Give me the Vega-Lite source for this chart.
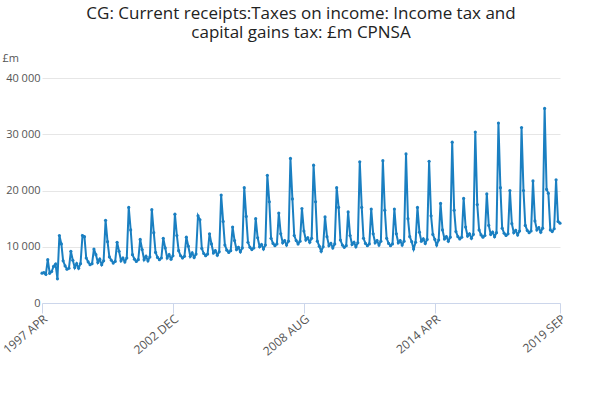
{"$schema":"https://vega.github.io/schema/vega-lite/v6.json",
"width":518,"height":225,
"padding":{"left":0,"top":5,"right":15,"bottom":5},
"title":{"text":["CG: Current receipts:Taxes on income: Income tax and","capital gains tax: £m CPNSA"],"fontSize":17,"font":"Open Sans","fontWeight":"normal","color":"#222","anchor":"middle","offset":10},
"config":{"view":{"stroke":null},"font":"Open Sans"},
"data":{"values":[
{"d":"1997-04","v":5300},{"d":"1997-05","v":5400},{"d":"1997-06","v":5100},{"d":"1997-07","v":7700},{"d":"1997-08","v":5300},{"d":"1997-09","v":5600},{"d":"1997-10","v":6500},{"d":"1997-11","v":6900},{"d":"1997-12","v":4300},
{"d":"1998-01","v":12000},{"d":"1998-02","v":10500},{"d":"1998-03","v":7500},{"d":"1998-04","v":6600},{"d":"1998-05","v":6000},{"d":"1998-06","v":6200},{"d":"1998-07","v":9200},{"d":"1998-08","v":7600},{"d":"1998-09","v":6300},{"d":"1998-10","v":7000},{"d":"1998-11","v":6200},{"d":"1998-12","v":7000},
{"d":"1999-01","v":12000},{"d":"1999-02","v":11800},{"d":"1999-03","v":8000},{"d":"1999-04","v":7300},{"d":"1999-05","v":6800},{"d":"1999-06","v":7000},{"d":"1999-07","v":9600},{"d":"1999-08","v":8600},{"d":"1999-09","v":7200},{"d":"1999-10","v":7800},{"d":"1999-11","v":6800},{"d":"1999-12","v":7500},
{"d":"2000-01","v":14700},{"d":"2000-02","v":10900},{"d":"2000-03","v":8200},{"d":"2000-04","v":7600},{"d":"2000-05","v":7100},{"d":"2000-06","v":7400},{"d":"2000-07","v":10800},{"d":"2000-08","v":9200},{"d":"2000-09","v":7500},{"d":"2000-10","v":8000},{"d":"2000-11","v":7300},{"d":"2000-12","v":8000},
{"d":"2001-01","v":17000},{"d":"2001-02","v":13000},{"d":"2001-03","v":8600},{"d":"2001-04","v":7800},{"d":"2001-05","v":7400},{"d":"2001-06","v":7700},{"d":"2001-07","v":11300},{"d":"2001-08","v":9500},{"d":"2001-09","v":7700},{"d":"2001-10","v":8300},{"d":"2001-11","v":7500},{"d":"2001-12","v":8200},
{"d":"2002-01","v":16600},{"d":"2002-02","v":12500},{"d":"2002-03","v":9000},{"d":"2002-04","v":8100},{"d":"2002-05","v":7700},{"d":"2002-06","v":8000},{"d":"2002-07","v":11500},{"d":"2002-08","v":9800},{"d":"2002-09","v":8000},{"d":"2002-10","v":8600},{"d":"2002-11","v":7800},{"d":"2002-12","v":8400},
{"d":"2003-01","v":15800},{"d":"2003-02","v":12000},{"d":"2003-03","v":9300},{"d":"2003-04","v":8400},{"d":"2003-05","v":8000},{"d":"2003-06","v":8300},{"d":"2003-07","v":11700},{"d":"2003-08","v":10100},{"d":"2003-09","v":8300},{"d":"2003-10","v":8900},{"d":"2003-11","v":8100},{"d":"2003-12","v":8700},
{"d":"2004-01","v":15500},{"d":"2004-02","v":14800},{"d":"2004-03","v":9700},{"d":"2004-04","v":8800},{"d":"2004-05","v":8400},{"d":"2004-06","v":8700},{"d":"2004-07","v":12300},{"d":"2004-08","v":10500},{"d":"2004-09","v":8900},{"d":"2004-10","v":9300},{"d":"2004-11","v":8500},{"d":"2004-12","v":9100},
{"d":"2005-01","v":19200},{"d":"2005-02","v":14500},{"d":"2005-03","v":10300},{"d":"2005-04","v":9400},{"d":"2005-05","v":9000},{"d":"2005-06","v":9300},{"d":"2005-07","v":13500},{"d":"2005-08","v":11100},{"d":"2005-09","v":9500},{"d":"2005-10","v":9900},{"d":"2005-11","v":9100},{"d":"2005-12","v":9800},
{"d":"2006-01","v":20500},{"d":"2006-02","v":15400},{"d":"2006-03","v":10800},{"d":"2006-04","v":9900},{"d":"2006-05","v":9500},{"d":"2006-06","v":9800},{"d":"2006-07","v":15000},{"d":"2006-08","v":11600},{"d":"2006-09","v":10000},{"d":"2006-10","v":10400},{"d":"2006-11","v":9600},{"d":"2006-12","v":10300},
{"d":"2007-01","v":22700},{"d":"2007-02","v":18000},{"d":"2007-03","v":11500},{"d":"2007-04","v":10600},{"d":"2007-05","v":10200},{"d":"2007-06","v":10500},{"d":"2007-07","v":16000},{"d":"2007-08","v":12300},{"d":"2007-09","v":10700},{"d":"2007-10","v":11100},{"d":"2007-11","v":10300},{"d":"2007-12","v":11000},
{"d":"2008-01","v":25700},{"d":"2008-02","v":18500},{"d":"2008-03","v":12000},{"d":"2008-04","v":11100},{"d":"2008-05","v":10500},{"d":"2008-06","v":11000},{"d":"2008-07","v":16800},{"d":"2008-08","v":12800},{"d":"2008-09","v":11200},{"d":"2008-10","v":11600},{"d":"2008-11","v":10800},{"d":"2008-12","v":11500},
{"d":"2009-01","v":24500},{"d":"2009-02","v":18000},{"d":"2009-03","v":11000},{"d":"2009-04","v":10100},{"d":"2009-05","v":9200},{"d":"2009-06","v":10000},{"d":"2009-07","v":15300},{"d":"2009-08","v":11800},{"d":"2009-09","v":10200},{"d":"2009-10","v":10600},{"d":"2009-11","v":9800},{"d":"2009-12","v":10500},
{"d":"2010-01","v":20500},{"d":"2010-02","v":17000},{"d":"2010-03","v":11200},{"d":"2010-04","v":10300},{"d":"2010-05","v":9900},{"d":"2010-06","v":10200},{"d":"2010-07","v":16200},{"d":"2010-08","v":12000},{"d":"2010-09","v":10400},{"d":"2010-10","v":10800},{"d":"2010-11","v":10000},{"d":"2010-12","v":10700},
{"d":"2011-01","v":25100},{"d":"2011-02","v":17000},{"d":"2011-03","v":11500},{"d":"2011-04","v":10600},{"d":"2011-05","v":10200},{"d":"2011-06","v":10500},{"d":"2011-07","v":16700},{"d":"2011-08","v":12300},{"d":"2011-09","v":10700},{"d":"2011-10","v":11100},{"d":"2011-11","v":10300},{"d":"2011-12","v":11000},
{"d":"2012-01","v":25300},{"d":"2012-02","v":16500},{"d":"2012-03","v":11500},{"d":"2012-04","v":10600},{"d":"2012-05","v":10200},{"d":"2012-06","v":10500},{"d":"2012-07","v":16700},{"d":"2012-08","v":12300},{"d":"2012-09","v":10700},{"d":"2012-10","v":11100},{"d":"2012-11","v":10300},{"d":"2012-12","v":11000},
{"d":"2013-01","v":26500},{"d":"2013-02","v":15000},{"d":"2013-03","v":11800},{"d":"2013-04","v":10900},{"d":"2013-05","v":9600},{"d":"2013-06","v":10800},{"d":"2013-07","v":17000},{"d":"2013-08","v":12600},{"d":"2013-09","v":11000},{"d":"2013-10","v":11400},{"d":"2013-11","v":10600},{"d":"2013-12","v":11300},
{"d":"2014-01","v":25200},{"d":"2014-02","v":15500},{"d":"2014-03","v":12200},{"d":"2014-04","v":11300},{"d":"2014-05","v":10300},{"d":"2014-06","v":11200},{"d":"2014-07","v":17700},{"d":"2014-08","v":13000},{"d":"2014-09","v":11400},{"d":"2014-10","v":11800},{"d":"2014-11","v":11000},{"d":"2014-12","v":11700},
{"d":"2015-01","v":28600},{"d":"2015-02","v":16500},{"d":"2015-03","v":12700},{"d":"2015-04","v":11800},{"d":"2015-05","v":11400},{"d":"2015-06","v":11700},{"d":"2015-07","v":18600},{"d":"2015-08","v":13500},{"d":"2015-09","v":11900},{"d":"2015-10","v":12300},{"d":"2015-11","v":11500},{"d":"2015-12","v":12200},
{"d":"2016-01","v":30400},{"d":"2016-02","v":17500},{"d":"2016-03","v":13000},{"d":"2016-04","v":12100},{"d":"2016-05","v":11700},{"d":"2016-06","v":12000},{"d":"2016-07","v":19400},{"d":"2016-08","v":13800},{"d":"2016-09","v":12200},{"d":"2016-10","v":12600},{"d":"2016-11","v":11800},{"d":"2016-12","v":12500},
{"d":"2017-01","v":32000},{"d":"2017-02","v":20500},{"d":"2017-03","v":13300},{"d":"2017-04","v":12400},{"d":"2017-05","v":12000},{"d":"2017-06","v":12300},{"d":"2017-07","v":20000},{"d":"2017-08","v":14100},{"d":"2017-09","v":12500},{"d":"2017-10","v":12900},{"d":"2017-11","v":12100},{"d":"2017-12","v":12800},
{"d":"2018-01","v":31200},{"d":"2018-02","v":20000},{"d":"2018-03","v":13800},{"d":"2018-04","v":12900},{"d":"2018-05","v":12500},{"d":"2018-06","v":12800},{"d":"2018-07","v":21700},{"d":"2018-08","v":14600},{"d":"2018-09","v":13000},{"d":"2018-10","v":13400},{"d":"2018-11","v":12600},{"d":"2018-12","v":13300},
{"d":"2019-01","v":34600},{"d":"2019-02","v":20200},{"d":"2019-03","v":19500},{"d":"2019-04","v":13000},{"d":"2019-05","v":12700},{"d":"2019-06","v":13200},{"d":"2019-07","v":21900},{"d":"2019-08","v":14500},{"d":"2019-09","v":14200}
]},
"transform":[{"calculate":"'CG: Current receipts:Taxes on income: Income tax and capital gains tax: £m CPNSA'","as":"s"}],
"mark":{"type":"line","strokeWidth":2,"point":{"size":10,"filled":true}},
"encoding":{
"x":{"field":"d","type":"temporal","title":"Source:","scale":{"nice":false},
"axis":{"values":[{"year":1997,"month":4},{"year":2002,"month":12},{"year":2008,"month":8},{"year":2014,"month":4},{"year":2019,"month":9}],
"labelExpr":"upper(timeFormat(datum.value,'%Y %b'))","labelAngle":-40,"labelAlign":"right","labelBaseline":"top","labelFontSize":12,"labelColor":"#555","grid":false,"domainColor":"#ccd6eb","tickColor":"#ccd6eb","tickSize":10,"labelPadding":0,
"titleAnchor":"end","titleAlign":"right","titleX":530,"titleY":100,"titleFontWeight":"normal","titleFontSize":12,"titleColor":"#555"}},
"y":{"field":"v","type":"quantitative","title":"£m","scale":{"domain":[0,40000]},
"axis":{"values":[0,10000,20000,30000,40000],"labelExpr":"replace(format(datum.value,','),',',' ')","domain":false,"ticks":false,"gridColor":"#e6e6e6","labelFontSize":11,"labelColor":"#555","titleAngle":0,"titleAlign":"left","titleX":-40,"titleY":-15,"titleFontWeight":"normal","titleFontSize":11,"titleColor":"#555"}},
"color":{"field":"s","type":"nominal","scale":{"range":["#1a7fc1"]},"title":null,
"legend":{"orient":"bottom","labelFontSize":12,"labelFontWeight":"bold","labelColor":"#333","labelLimit":700,"symbolType":"stroke","offset":25}}
}}
